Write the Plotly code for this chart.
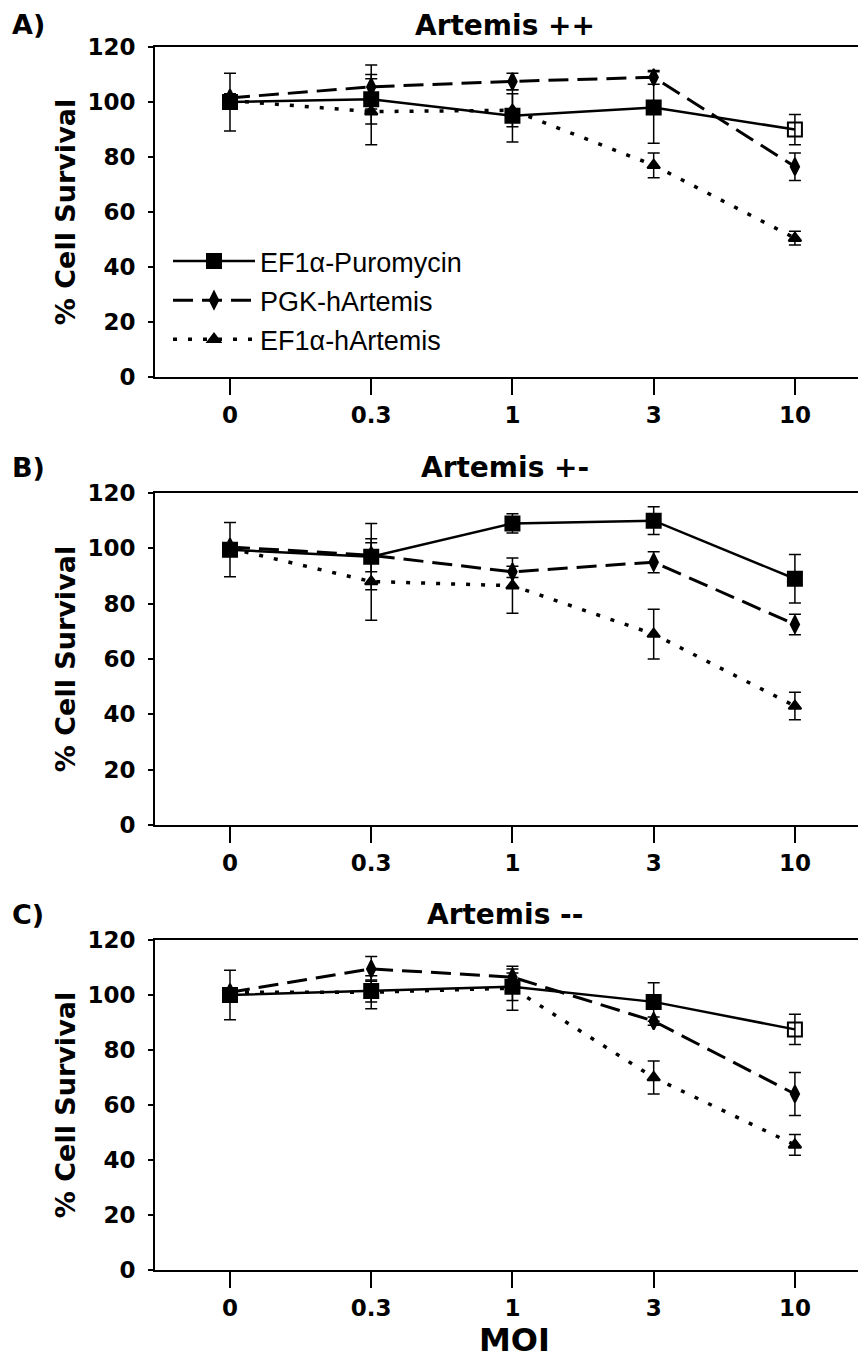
import plotly.graph_objects as go

moi = ["0", "0.3", "1", "3", "10"]
series_names = ["EF1\u03b1-Puromycin", "PGK-hArtemis", "EF1\u03b1-hArtemis"]
panel_titles = ["Artemis ++", "Artemis +-", "Artemis --"]
panel_letters = ["A)", "B)", "C)"]
y_ticks = [0, 20, 40, 60, 80, 100, 120]

# Panel A (Artemis ++)
puro_A = [100, 101, 95, 98, 90]
puro_A_err = [10.5, 9, 9.5, 13, 5.5]
pgk_A = [101.5, 105.5, 107.5, 109, 76.5]
pgk_A_err = [1.5, 8, 3, 2.5, 5]
hart_A = [100.5, 96.5, 97, 77, 50.5]
hart_A_err = [1.5, 12, 6, 4.5, 2.5]

# Panel B (Artemis +-)
puro_B = [99.5, 97, 109, 110, 89]
puro_B_err = [9.8, 12, 3.5, 5, 8.8]
pgk_B = [100.5, 97.5, 91.5, 95, 72.5]
pgk_B_err = [1.5, 6, 2, 3.8, 3.7]
hart_B = [100, 88, 86.5, 69, 43]
hart_B_err = [1.5, 14, 10, 9, 5]

# Panel C (Artemis --)
puro_C = [100, 101.5, 103, 97.5, 87.5]
puro_C_err = [9, 4, 5, 7, 5.5]
pgk_C = [101, 109.5, 106.5, 90.5, 64]
pgk_C_err = [1.5, 4.5, 3, 1.5, 7.8]
hart_C = [101, 101, 102.5, 70, 45.5]
hart_C_err = [1.5, 6, 8, 6, 3.8]

panels = [
    (puro_A, puro_A_err, pgk_A, pgk_A_err, hart_A, hart_A_err),
    (puro_B, puro_B_err, pgk_B, pgk_B_err, hart_B, hart_B_err),
    (puro_C, puro_C_err, pgk_C, pgk_C_err, hart_C, hart_C_err),
]
puro_symbols = [
    ["square"] * 4 + ["square-open"],
    ["square"] * 5,
    ["square"] * 4 + ["square-open"],
]

W, H = 866, 1362
OFF = 8  # page body margin offset
panel_px = [(47, 377), (493, 825), (940, 1270)]
x_left_px = 155


def px_x(x):
    return (x - OFF) / W


def px_y(y):
    return 1 - (y - OFF) / H


fig = go.Figure()
BOLD = "DejaVu Sans"

styles = [
    dict(dash="solid", width=2.5, sym="square", size=14),
    dict(dash="20px,9px", width=3, sym="diamond-tall", size=12),
    dict(dash="4px,11px", width=3.5, sym="triangle-up", size=11),
]

for p, data in enumerate(panels):
    axn = "" if p == 0 else str(p + 1)
    for s in range(3):
        vals = data[2 * s]
        errs = data[2 * s + 1]
        st = styles[s]
        symbol = puro_symbols[p] if s == 0 else st["sym"]
        fig.add_trace(go.Scatter(
            x=moi, y=vals,
            name=series_names[s],
            mode="lines+markers",
            line=dict(color="black", width=st["width"], dash=st["dash"]),
            marker=dict(symbol=symbol, size=st["size"], color="black",
                        line=dict(color="black", width=2)),
            error_y=dict(type="data", array=errs, visible=True,
                         color="black", thickness=1.5, width=6),
            xaxis="x" + axn, yaxis="y" + axn,
            showlegend=(p == 0),
            legendgroup="g%d" % s,
        ))

    top, bot = panel_px[p]
    ydom = [px_y(bot), px_y(top)]
    xaxis = dict(
        domain=[px_x(x_left_px), 1.0],
        anchor="y" + axn,
        type="category",
        range=[-0.531, 4.56],
        automargin=False,
        showline=True, linecolor="black", linewidth=2, mirror=True,
        ticks="outside", ticklen=16, tickwidth=2, tickcolor="black",
        tickfont=dict(family=BOLD, size=23, color="black", weight="bold"),
        showgrid=False, zeroline=False,
    )
    if p == 2:
        xaxis["title"] = dict(text="<b>MOI</b>", font=dict(family=BOLD, size=32, color="black"),
                              standoff=4)
    yaxis = dict(
        domain=ydom,
        anchor="x" + axn,
        range=[0, 120],
        tickvals=y_ticks,
        automargin=False,
        showline=True, linecolor="black", linewidth=2,
        ticks="outside", ticklen=5, tickwidth=2, tickcolor="black",
        tickfont=dict(family=BOLD, size=23, color="black", weight="bold"),
        ticklabelstandoff=8,
        showgrid=False, zeroline=False,
        title=dict(text="<b>% Cell Survival</b>", font=dict(family=BOLD, size=27, color="black"),
                   standoff=4),
    )
    fig.layout["xaxis" + axn] = xaxis
    fig.layout["yaxis" + axn] = yaxis

    if p == 0:
        ty, yanc = 1.0, "top"
    else:
        ty, yanc = px_y(top - 25), "middle"
    fig.add_annotation(
        text="<b>%s</b>" % panel_titles[p], xref="paper", yref="paper",
        x=px_x(505), y=ty, xanchor="center", yanchor=yanc, borderpad=0,
        showarrow=False, font=dict(family=BOLD, size=28, color="black"))
    fig.add_annotation(
        text="<b>%s</b>" % panel_letters[p], xref="paper", yref="paper",
        x=px_x(11), y=ty, xanchor="left", yanchor=yanc, borderpad=0,
        showarrow=False, font=dict(family=BOLD, size=27, color="black"))

fig.update_layout(
    width=W, height=H,
    margin=dict(l=0, r=0, t=0, b=0, pad=0, autoexpand=False),
    paper_bgcolor="white", plot_bgcolor="white",
    showlegend=True,
    legend=dict(
        x=px_x(168), y=px_y(237), xanchor="left", yanchor="top",
        bgcolor="rgba(0,0,0,0)", borderwidth=0,
        font=dict(family="Liberation Sans", size=27, color="black"),
        itemwidth=82, tracegroupgap=1, traceorder="grouped",
    ),
)

fig.write_html("out.html")
